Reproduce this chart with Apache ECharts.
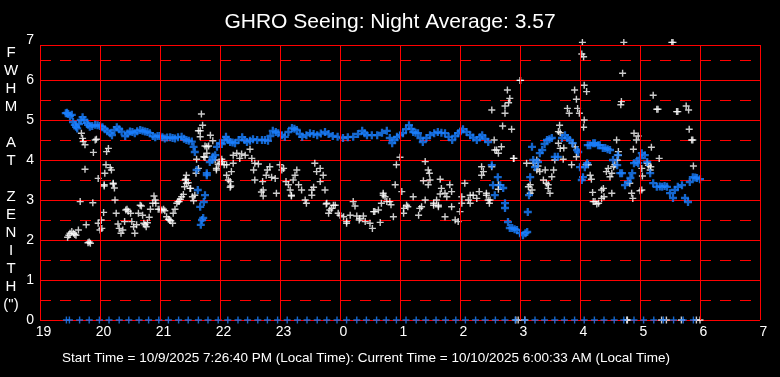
<!DOCTYPE html>
<html>
<head>
<meta charset="utf-8">
<script src="https://cdn.jsdelivr.net/npm/echarts@6/dist/echarts.min.js"></script>
<style>
html,body{margin:0;padding:0;background:#000}
#chart{width:780px;height:377px}
</style>
</head>
<body>
<div id="chart"></div>
<script>
// hours are counted from 19 (7 PM) past midnight, e.g. 25.5 = 1:30 AM
var titleText = 'GHRO Seeing: Night Average: 3.57';
var footText = 'Start Time = 10/9/2025 7:26:40 PM (Local Time): Current Time = 10/10/2025 6:00:33 AM (Local Time)';
var yName = 'F\nW\nH\nM\n\nA\nT\n\nZ\nE\nN\nI\nT\nH\n(")';

// single FWHM measurements (white)
var seeingPoints = [
[19.46,2.07],[19.48,2.12],[19.5,2.17],[19.53,2.21],[19.56,2.17],[19.58,2.14],[19.6,2.12],[19.64,2.25],[19.67,2.96],
[19.69,4.67],[19.71,4.54],[19.72,4.46],[19.75,4.38],[19.75,3.77],[19.77,2.38],[19.8,1.93],[19.82,1.95],[19.84,1.92],
[19.88,2.93],[19.89,4.19],[19.92,4.5],[19.94,4.52],[19.97,3.54],[19.97,2.42],[20.0,2.25],[20.02,2.5],[20.03,2.29],
[20.06,2.69],[20.07,3.38],[20.07,3.35],[20.08,3.67],[20.1,3.88],[20.11,4.21],[20.14,4.29],[20.17,3.81],[20.19,3.75],
[20.22,3.42],[20.22,3.4],[20.24,3.3],[20.25,3.0],[20.27,2.67],[20.3,2.4],[20.32,2.29],[20.35,2.17],[20.38,2.25],
[20.41,2.46],[20.43,2.75],[20.45,2.77],[20.47,2.72],[20.51,2.67],[20.53,2.46],[20.56,2.33],[20.58,2.17],[20.61,2.38],
[20.64,2.67],[20.67,2.87],[20.69,2.85],[20.71,2.62],[20.73,2.42],[20.75,2.38],[20.77,2.33],[20.79,2.43],[20.82,2.57],
[20.84,2.77],[20.88,2.92],[20.9,3.1],[20.92,3.0],[20.93,2.92],[20.97,2.77],[21.0,2.77],[21.03,2.75],[21.06,2.77],
[21.08,2.73],[21.11,2.58],[21.14,2.52],[21.16,2.5],[21.18,2.48],[21.21,2.42],[21.22,2.67],[21.25,2.77],[21.28,2.92],
[21.3,2.96],[21.32,2.96],[21.34,3.02],[21.36,3.08],[21.39,3.14],[21.41,3.33],[21.42,3.5],[21.43,3.52],[21.44,3.62],
[21.44,3.42],[21.47,3.43],[21.5,3.29],[21.51,3.29],[21.54,3.08],[21.56,2.98],[21.58,3.12],[21.6,3.67],[21.61,4.02],
[21.64,3.79],[21.64,4.73],[21.67,4.58],[21.67,4.73],[21.69,5.15],[21.71,4.87],[21.73,4.08],[21.75,4.35],[21.75,4.07],
[21.78,4.17],[21.78,4.33],[21.81,4.35],[21.84,4.62],[21.88,4.48],[21.92,4.0],[21.94,3.79],[21.94,3.75],[21.97,3.89],
[22.0,3.92],[22.03,4.02],[22.04,3.96],[22.07,3.88],[22.11,3.62],[22.11,3.88],[22.14,3.5],[22.17,3.46],[22.17,3.32],
[22.18,3.35],[22.19,3.71],[22.22,3.92],[22.22,4.12],[22.28,4.17],[22.33,4.04],[22.36,4.15],[22.42,4.12],[22.5,4.27],
[22.53,4.04],[22.56,3.75],[22.58,3.92],[22.58,3.5],[22.64,3.9],[22.69,3.2],[22.71,3.46],[22.72,3.25],[22.72,3.1],
[22.77,3.62],[22.79,3.75],[22.83,3.83],[22.86,3.57],[22.92,3.54],[22.94,3.17],[23.0,3.88],[23.03,3.75],[23.06,3.79],
[23.1,3.46],[23.14,3.38],[23.17,3.25],[23.19,3.12],[23.19,3.1],[23.22,3.5],[23.25,3.62],[23.28,3.75],[23.31,3.38],
[23.36,3.25],[23.42,3.0],[23.44,2.92],[23.53,3.25],[23.53,3.12],[23.56,3.32],[23.58,3.92],[23.61,3.71],[23.67,3.79],
[23.67,3.46],[23.72,3.62],[23.75,3.25],[23.77,2.9],[23.78,2.92],[23.81,2.67],[23.83,2.75],[23.86,2.79],[23.89,2.87],
[23.92,2.87],[23.97,2.67],[24.0,2.62],[24.06,2.58],[24.11,2.46],[24.11,2.42],[24.17,2.62],[24.22,2.96],[24.25,2.85],
[24.28,2.6],[24.32,2.5],[24.33,2.54],[24.39,2.6],[24.42,2.46],[24.5,2.42],[24.54,2.29],[24.56,2.71],[24.58,2.71],
[24.64,2.75],[24.67,2.44],[24.69,2.92],[24.72,3.12],[24.72,3.17],[24.75,3.08],[24.78,2.96],[24.83,2.96],[24.85,2.88],
[24.89,2.58],[24.92,3.38],[24.94,3.88],[25.0,4.07],[25.03,3.21],[25.06,2.67],[25.06,2.79],[25.11,2.87],[25.13,2.83],
[25.22,3.08],[25.31,2.62],[25.33,2.79],[25.36,2.83],[25.39,3.48],[25.42,3.96],[25.42,3.0],[25.47,3.75],[25.49,3.67],
[25.5,3.5],[25.47,3.38],[25.56,2.92],[25.56,2.87],[25.61,3.0],[25.64,2.87],[25.64,2.83],[25.67,3.52],[25.67,3.15],
[25.69,3.29],[25.75,3.17],[25.75,2.58],[25.78,3.08],[25.83,3.38],[25.86,3.21],[25.86,2.83],[25.92,2.5],[25.97,2.46],
[26.0,2.71],[26.03,2.92],[26.03,3.08],[26.08,3.42],[26.14,3.0],[26.17,2.92],[26.17,3.12],[26.22,3.12],[26.28,3.04],
[26.32,3.21],[26.36,3.83],[26.36,3.62],[26.39,3.71],[26.44,3.17],[26.44,3.12],[26.47,3.0],[26.49,2.92],[26.5,3.0],
[26.53,5.25],[26.53,3.83],[26.57,4.5],[26.58,4.25],[26.61,4.25],[26.64,4.17],[26.64,3.38],[26.64,3.27],[26.69,4.33],
[26.71,4.85],[26.75,5.17],[26.75,5.35],[26.79,5.75],[26.81,5.43],[26.83,5.54],[26.86,4.77],[26.89,4.04],[26.9,4.04],
[27.0,5.99],[27.01,5.99],[27.11,3.92],[27.14,3.33],[27.17,3.38],[27.17,3.17],[27.2,3.25],[27.22,3.92],[27.28,4.0],
[27.28,3.75],[27.3,3.85],[27.33,3.71],[27.39,3.5],[27.42,3.75],[27.44,3.42],[27.47,3.38],[27.47,3.29],[27.5,3.17],
[27.53,3.58],[27.56,3.75],[27.58,4.0],[27.64,4.42],[27.64,4.71],[27.66,4.87],[27.67,4.68],[27.67,4.29],[27.72,4.02],
[27.73,4.3],[27.79,5.29],[27.82,5.17],[27.86,3.88],[27.87,4.42],[27.91,5.75],[27.92,4.33],[27.94,5.52],[27.94,4.08],
[27.96,5.29],[27.99,5.17],[28.03,6.65],[28.04,6.94],[28.06,6.58],[28.06,4.82],[28.07,5.87],[28.07,5.0],[28.1,3.88],
[28.11,5.71],[28.14,3.88],[28.17,3.62],[28.19,3.52],[28.21,3.19],[28.22,2.96],[28.25,2.96],[28.28,2.9],[28.31,2.92],
[28.36,3.04],[28.36,3.25],[28.39,3.29],[28.4,3.08],[28.44,3.71],[28.47,3.79],[28.5,3.58],[28.53,3.67],[28.53,3.17],
[28.56,3.83],[28.58,3.88],[28.61,4.5],[28.62,4.0],[28.64,4.21],[28.64,4.12],[28.68,5.38],[28.69,5.46],[28.71,6.17],
[28.73,6.94],[28.83,3.42],[28.86,3.17],[28.88,3.04],[28.89,4.27],[28.9,4.67],[28.94,4.5],[28.97,4.6],[29.0,3.23],
[29.03,3.79],[29.03,3.25],[29.04,3.6],[29.12,3.92],[29.14,3.87],[29.17,3.75],[29.18,3.83],[29.19,4.32],[29.22,5.62],
[29.28,5.27],[29.3,5.27],[29.32,4.04],[29.53,6.94],[29.55,6.94],[29.61,5.21],[29.63,5.21],[29.77,5.35],[29.81,5.25],
[29.82,4.77],[29.86,4.5],[29.88,4.5],[29.89,3.85]
];
// measurements that came back as zero
var seeingZeroHours = [26.93,26.97,27.08,28.78,28.79,29.36,29.44,29.69,29.94,30.0];

// running average (blue)
var averagePoints = [
[19.43,5.17],[19.45,5.18],[19.47,5.15],[19.5,5.1],[19.53,5.13],[19.55,4.95],[19.58,4.88],[19.6,4.83],[19.62,4.79],
[19.65,4.9],[19.68,5.0],[19.71,5.07],[19.74,5.0],[19.78,4.93],[19.8,4.88],[19.83,4.83],[19.87,4.85],[19.92,4.88],
[19.96,4.87],[20.0,4.85],[20.04,4.82],[20.08,4.77],[20.12,4.72],[20.17,4.67],[20.2,4.62],[20.24,4.75],[20.28,4.82],
[20.32,4.77],[20.36,4.71],[20.42,4.6],[20.46,4.66],[20.5,4.71],[20.54,4.7],[20.58,4.67],[20.62,4.72],[20.67,4.75],
[20.71,4.73],[20.75,4.71],[20.79,4.7],[20.83,4.67],[20.88,4.6],[20.92,4.57],[20.96,4.6],[21.0,4.6],[21.04,4.57],
[21.08,4.54],[21.12,4.56],[21.17,4.57],[21.21,4.55],[21.25,4.54],[21.3,4.57],[21.36,4.58],[21.4,4.53],[21.44,4.5],
[21.48,4.48],[21.53,4.46],[21.56,4.33],[21.58,4.2],[21.61,3.75],[21.63,3.25],[21.67,2.83],[21.68,2.38],[21.7,2.5],
[21.72,2.55],[21.73,2.95],[21.75,3.12],[21.78,3.62],[21.78,3.67],[21.83,3.95],[21.87,4.0],[21.88,4.08],[21.92,4.12],
[21.95,4.33],[22.0,4.42],[22.03,4.4],[22.07,4.5],[22.1,4.58],[22.13,4.5],[22.17,4.45],[22.21,4.44],[22.25,4.42],
[22.31,4.5],[22.37,4.57],[22.41,4.5],[22.45,4.45],[22.5,4.48],[22.55,4.52],[22.62,4.5],[22.7,4.5],[22.75,4.5],
[22.8,4.48],[22.84,4.6],[22.88,4.73],[22.93,4.7],[22.97,4.67],[23.03,4.62],[23.08,4.58],[23.14,4.7],[23.2,4.8],
[23.24,4.78],[23.28,4.75],[23.33,4.65],[23.37,4.58],[23.44,4.62],[23.5,4.67],[23.56,4.65],[23.62,4.62],[23.68,4.66],
[23.75,4.7],[23.81,4.65],[23.88,4.6],[23.96,4.58],[24.05,4.55],[24.13,4.57],[24.22,4.58],[24.3,4.65],[24.37,4.73],
[24.41,4.67],[24.45,4.62],[24.53,4.62],[24.62,4.62],[24.7,4.68],[24.78,4.73],[24.83,4.55],[24.87,4.42],[24.91,4.5],
[24.95,4.58],[25.0,4.62],[25.05,4.67],[25.1,4.77],[25.15,4.87],[25.19,4.78],[25.22,4.7],[25.26,4.68],[25.3,4.67],
[25.34,4.55],[25.38,4.45],[25.44,4.55],[25.5,4.62],[25.57,4.67],[25.63,4.7],[25.69,4.68],[25.75,4.67],[25.81,4.58],
[25.87,4.5],[25.92,4.6],[25.97,4.67],[26.01,4.72],[26.05,4.77],[26.11,4.7],[26.17,4.62],[26.22,4.56],[26.28,4.5],
[26.33,4.57],[26.37,4.62],[26.42,4.53],[26.47,4.45],[26.53,3.87],[26.55,3.37],[26.58,3.12],[26.63,3.57],[26.67,3.37],
[26.72,3.3],[26.75,2.92],[26.75,2.8],[26.8,2.45],[26.83,2.3],[26.87,2.3],[26.91,2.27],[26.95,2.25],[27.0,2.17],
[27.05,2.12],[27.09,2.17],[27.12,2.2],[27.13,2.7],[27.15,3.12],[27.17,3.57],[27.2,4.33],[27.22,4.0],[27.25,3.82],
[27.3,3.95],[27.33,4.17],[27.37,4.25],[27.41,4.4],[27.45,4.5],[27.49,4.52],[27.53,4.55],[27.58,4.08],[27.63,4.08],
[27.7,4.55],[27.75,4.62],[27.79,4.55],[27.83,4.5],[27.88,4.42],[27.95,4.25],[27.97,4.2],[28.0,3.82],[28.03,3.5],
[28.05,3.57],[28.08,3.82],[28.12,3.92],[28.13,4.37],[28.17,4.37],[28.22,4.42],[28.25,4.42],[28.3,4.37],[28.33,4.37],
[28.38,4.3],[28.42,4.3],[28.46,4.27],[28.5,4.25],[28.55,4.0],[28.62,3.87],[28.63,4.12],[28.67,3.67],[28.7,3.67],
[28.75,3.37],[28.8,3.45],[28.84,3.55],[28.87,3.67],[28.9,3.92],[28.94,3.95],[28.97,3.92],[29.0,4.05],[29.03,4.17],
[29.08,4.12],[29.12,3.95],[29.17,3.67],[29.22,3.42],[29.28,3.33],[29.33,3.34],[29.37,3.33],[29.41,3.35],[29.45,3.33],
[29.5,3.17],[29.55,3.05],[29.58,3.25],[29.63,3.33],[29.7,3.37],[29.75,3.05],[29.8,2.95],[29.83,3.45],[29.88,3.57],
[29.92,3.56],[29.95,3.55],[30.0,3.52]
];
// averages logged as zero, every ~10 minutes
var averageZeroHours = [
19.44,19.49,19.66,19.82,19.99,20.15,20.32,20.48,20.65,20.81,20.98,21.14,21.31,21.47,21.64,21.80,21.97,
22.13,22.30,22.46,22.63,22.79,22.96,23.12,23.29,23.45,23.62,23.78,23.95,24.11,24.28,24.44,24.61,24.77,
24.94,25.10,25.27,25.43,25.60,25.76,25.93,26.09,26.26,26.42,26.59,26.75,26.92,27.08,27.25,27.41,27.58,
27.74,27.91,28.07,28.24,28.40,28.57,28.73,28.90,29.06,29.23,29.39,29.56,29.72,29.89
];

// plus-sign markers (thin and bold)
var plusThin = 'path://M2.8,0L4.2,0L4.2,2.8L7,2.8L7,4.2L4.2,4.2L4.2,7L2.8,7L2.8,4.2L0,4.2L0,2.8L2.8,2.8Z';
var plusBold = 'path://M2.5,0L4.5,0L4.5,2.5L7,2.5L7,4.5L4.5,4.5L4.5,7L2.5,7L2.5,4.5L0,4.5L0,2.5L2.5,2.5Z';
var red = '#ff0000';
var blue = '#1a80ff';
var font = '"Liberation Sans", Arial, sans-serif';
var frameTop = 6.875;

var gridLines = [];
for (var h = 19; h <= 31; h++) {
	gridLines.push([{coord:[h,0]},{coord:[h,frameTop]}]);
}
gridLines.push([{coord:[19,frameTop]},{coord:[31,frameTop]}]);

var myChart = echarts.init(document.getElementById('chart'));
var option = {
	backgroundColor: '#000',
	animation: false,
	title: [
		{
			text: titleText,
			left: 'center',
			top: 7,
			textStyle: {color:'#fff', fontSize:21, fontWeight:'normal', fontFamily:font}
		},
		{
			text: footText,
			left: 57,
			top: 346,
			textStyle: {color:'#fff', fontSize:13.5, fontWeight:'normal', fontFamily:font}
		}
	],
	graphic: [{
		type: 'text',
		x: 11,
		y: 44,
		style: {text:yName, fill:'#fff', font:'15px ' + font, textAlign:'center', textVerticalAlign:'top', lineHeight:18}
	}],
	grid: {left:40, right:20, top:40, bottom:57},
	xAxis: {
		type: 'value',
		min: 19,
		max: 31,
		interval: 1,
		axisLine: {show:false},
		axisTick: {show:false},
		splitLine: {show:false},
		axisLabel: {
			color:'#fff', fontSize:14, fontFamily:font, margin:5, padding:[0,0,0,7],
			formatter: function(v){ return v >= 24 ? v - 24 : v; }
		}
	},
	yAxis: {
		type: 'value',
		min: 0,
		max: 7,
		interval: 1,
		axisLine: {show:false},
		axisTick: {show:false},
		axisLabel: {color:'#fff', fontSize:14, fontFamily:font, margin:6},
		splitLine: {show:true, showMaxLine:false, lineStyle:{color:red, width:1}},
		minorTick: {show:false, splitNumber:2},
		minorSplitLine: {show:true, lineStyle:{color:red, width:1, type:[11,9]}}
	},
	series: [
		{
			type: 'scatter',
			data: [],
			z: 1,
			silent: true,
			markLine: {
				silent: true,
				symbol: 'none',
				label: {show:false},
				lineStyle: {color:red, width:1, type:'solid'},
				data: gridLines
			}
		},
		{
			name: 'FWHM',
			type: 'scatter',
			symbol: plusThin,
			symbolSize: 7,
			itemStyle: {color:'#ffffff'},
			data: seeingPoints
		},
		{
			name: 'FWHM zero',
			type: 'scatter',
			symbol: plusThin,
			symbolSize: 7,
			itemStyle: {color:'#ffffff'},
			data: seeingZeroHours.map(function(t){ return [t,0]; })
		},
		{
			name: 'Average',
			type: 'scatter',
			symbol: plusBold,
			symbolSize: 8,
			itemStyle: {color:blue},
			data: averagePoints
		},
		{
			name: 'Average zero',
			type: 'scatter',
			symbol: plusThin,
			symbolSize: 7,
			itemStyle: {color:blue},
			data: averageZeroHours.map(function(t){ return [t,0]; })
		}
	]
};
myChart.setOption(option);
</script>
</body>
</html>
